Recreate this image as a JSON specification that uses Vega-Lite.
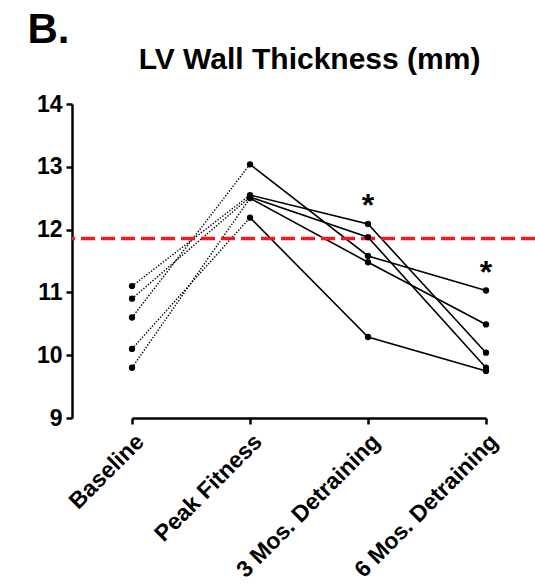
{
  "$schema": "https://vega.github.io/schema/vega-lite/v6.json",
  "width": 463,
  "height": 314,
  "autosize": {"type": "none"},
  "padding": {"left": 72, "top": 104, "right": 0, "bottom": 169},
  "background": "white",
  "title": {
    "text": "LV Wall Thickness (mm)",
    "font": "Liberation Sans",
    "fontSize": 30,
    "fontWeight": "bold",
    "color": "black",
    "anchor": "middle",
    "frame": "group",
    "baseline": "alphabetic",
    "offset": 0,
    "dx": 6,
    "dy": 91
  },
  "datasets": {
    "lvwt": [
      {"subject": "S1", "time": "Baseline", "value": 10.6},
      {"subject": "S1", "time": "Peak Fitness", "value": 13.04},
      {"subject": "S1", "time": "3 Mos. Detraining", "value": 11.58},
      {"subject": "S1", "time": "6 Mos. Detraining", "value": 11.03},
      {"subject": "S2", "time": "Baseline", "value": 10.1},
      {"subject": "S2", "time": "Peak Fitness", "value": 12.19},
      {"subject": "S2", "time": "3 Mos. Detraining", "value": 10.29},
      {"subject": "S2", "time": "6 Mos. Detraining", "value": 9.75},
      {"subject": "S3", "time": "Baseline", "value": 9.8},
      {"subject": "S3", "time": "Peak Fitness", "value": 12.5},
      {"subject": "S3", "time": "3 Mos. Detraining", "value": 11.48},
      {"subject": "S3", "time": "6 Mos. Detraining", "value": 10.49},
      {"subject": "S4", "time": "Baseline", "value": 11.1},
      {"subject": "S4", "time": "Peak Fitness", "value": 12.55},
      {"subject": "S4", "time": "3 Mos. Detraining", "value": 12.09},
      {"subject": "S4", "time": "6 Mos. Detraining", "value": 10.04},
      {"subject": "S5", "time": "Baseline", "value": 10.9},
      {"subject": "S5", "time": "Peak Fitness", "value": 12.52},
      {"subject": "S5", "time": "3 Mos. Detraining", "value": 11.88},
      {"subject": "S5", "time": "6 Mos. Detraining", "value": 9.8}
    ],
    "cutoff": [{"threshold": 11.86}]
  },
  "data": {"name": "lvwt"},
  "encoding": {
    "x": {
      "field": "time",
      "type": "ordinal",
      "sort": ["Baseline", "Peak Fitness", "3 Mos. Detraining", "6 Mos. Detraining"],
      "scale": {"type": "point", "range": [60, 414], "padding": 0},
      "axis": {
        "title": null,
        "labelAngle": -45,
        "labelFont": "Liberation Sans",
        "labelFontSize": 23,
        "labelFontWeight": "bold",
        "labelColor": "black",
        "labelPadding": 6,
        "labelLimit": 400,
        "domainColor": "black",
        "domainWidth": 2.5,
        "tickColor": "black",
        "tickWidth": 2.5,
        "tickSize": 6,
        "grid": false
      }
    },
    "y": {
      "field": "value",
      "type": "quantitative",
      "scale": {"domain": [9, 14], "nice": false, "zero": false},
      "axis": {
        "title": "B.",
        "titleAngle": 0,
        "titleAlign": "left",
        "titleBaseline": "alphabetic",
        "titleX": -45,
        "titleY": -62,
        "titleFont": "Liberation Sans",
        "titleFontSize": 42,
        "titleFontWeight": "bold",
        "titleColor": "black",
        "values": [9, 10, 11, 12, 13, 14],
        "labelFont": "Liberation Sans",
        "labelFontSize": 23,
        "labelFontWeight": "bold",
        "labelColor": "black",
        "labelPadding": 4,
        "domainColor": "black",
        "domainWidth": 2.5,
        "tickColor": "black",
        "tickWidth": 2.5,
        "tickSize": 6,
        "grid": false
      }
    }
  },
  "layer": [
    {
      "transform": [{"filter": {"field": "time", "oneOf": ["Baseline", "Peak Fitness"]}}],
      "mark": {"type": "line", "color": "black", "strokeWidth": 1.4, "strokeDash": [1.4, 1.6]},
      "encoding": {"detail": {"field": "subject"}}
    },
    {
      "transform": [{"filter": {"not": {"field": "time", "equal": "Baseline"}}}],
      "mark": {"type": "line", "color": "black", "strokeWidth": 1.6},
      "encoding": {"detail": {"field": "subject"}}
    },
    {
      "data": {"name": "cutoff"},
      "mark": {"type": "rule", "color": "#ec1c24", "strokeWidth": 3.5, "strokeDash": [14, 6]},
      "encoding": {
        "x": null,
        "y": {"field": "threshold", "type": "quantitative"}
      }
    },
    {
      "mark": {"type": "point", "filled": true, "color": "black", "size": 40, "opacity": 1}
    },
    {
      "transform": [
        {"filter": {"field": "time", "oneOf": ["3 Mos. Detraining", "6 Mos. Detraining"]}},
        {"aggregate": [{"op": "max", "field": "value", "as": "value"}], "groupby": ["time"]}
      ],
      "mark": {
        "type": "text",
        "text": "*",
        "font": "Liberation Sans",
        "fontSize": 32,
        "fontWeight": "bold",
        "color": "black",
        "baseline": "alphabetic",
        "align": "center",
        "dy": -8
      }
    }
  ],
  "config": {
    "view": {"stroke": null}
  }
}
